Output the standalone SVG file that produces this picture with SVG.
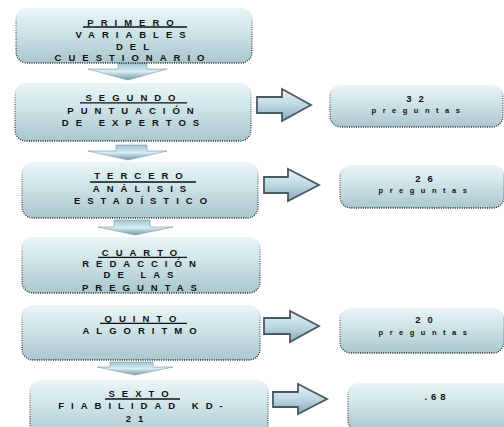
<svg xmlns="http://www.w3.org/2000/svg" width="504" height="427" viewBox="0 0 504 427">
<defs>
<linearGradient id="boxFill" x1="0" y1="0" x2="0" y2="1">
<stop offset="0" stop-color="#eaf5f6"/>
<stop offset="0.35" stop-color="#d3e8eb"/>
<stop offset="1" stop-color="#a9c7cd"/>
</linearGradient>
<linearGradient id="boxEdge" x1="0" y1="0" x2="0" y2="1">
<stop offset="0" stop-color="#ffffff" stop-opacity="0"/>
<stop offset="0.25" stop-color="#444" stop-opacity="0.7"/>
<stop offset="1" stop-color="#222" stop-opacity="1"/>
</linearGradient>
<linearGradient id="arrFill" x1="0" y1="0" x2="0" y2="1">
<stop offset="0" stop-color="#e6f3f7"/>
<stop offset="0.5" stop-color="#bcd9e4"/>
<stop offset="1" stop-color="#86a9b8"/>
</linearGradient>
<linearGradient id="downFill" x1="0" y1="0" x2="0" y2="1">
<stop offset="0" stop-color="#9fc2cf"/>
<stop offset="0.5" stop-color="#d6eef6"/>
<stop offset="1" stop-color="#7499a6"/>
</linearGradient>
</defs>
<style>
.box{fill:url(#boxFill);stroke:url(#boxEdge);stroke-width:1.3;stroke-dasharray:1 1.3}
.t{font-family:"Liberation Sans",Arial,sans-serif;font-weight:bold;font-size:9.5px;letter-spacing:7px;fill:#111;text-anchor:middle}
.n{font-family:"Liberation Sans",Arial,sans-serif;font-weight:bold;font-size:9.5px;letter-spacing:7px;fill:#111;text-anchor:middle}
.s{font-family:"Liberation Sans",Arial,sans-serif;font-weight:bold;font-size:7.5px;letter-spacing:6.5px;fill:#111;text-anchor:middle}
.ul{stroke:#111;stroke-width:1.3}
.ra{fill:url(#arrFill);stroke:#4a5a60;stroke-width:1.8;stroke-linejoin:miter}
.da{fill:url(#downFill);stroke:#7f98a0;stroke-width:0.6}
</style>

<g id="connectors">
<path class="da" d="M118,63 H147 V69 H167 L128,80 L88,69 H118 Z"/>
<path class="da" d="M116,145 H147 V151 H167 L128,160 L88,151 H116 Z"/>
<path class="da" d="M114,220 H150 V227 H173 L135,235 L98,227 H114 Z"/>
<path class="da" d="M110,362 H153 V367 H173 L135,375 L97,367 H110 Z"/>
<path class="ra" d="M257,97 H282 V89 L311,105 L282,121 V113 H257 Z"/>
<path class="ra" d="M264,177 H288 V169 L319,185 L288,201 V193 H264 Z"/>
<path class="ra" d="M264,318 H290 V311 L319,326 L290,342 V334 H264 Z"/>
<path class="ra" d="M273,392 H298 V384 L327,399 L298,414 V407 H273 Z"/>
</g>

<g id="primero">
<rect class="box" x="16" y="8" width="236" height="55" rx="11"/>
<text class="t" x="134" y="25.5">PRIMERO</text>
<line class="ul" x1="83" y1="27" x2="187" y2="27"/>
<text class="t" x="134" y="37.5">VARIABLES</text>
<text class="t" x="136" y="49.5">DEL</text>
<text class="t" x="133" y="61">CUESTIONARIO</text>
</g>

<g id="segundo">
<rect class="box" x="15" y="83" width="236" height="58" rx="11"/>
<text class="t" x="134" y="101">SEGUNDO</text>
<line class="ul" x1="80" y1="102.8" x2="187" y2="102.8"/>
<text class="t" x="134" y="113.5">PUNTUACIÓN</text>
<text class="t" x="134" y="126">DE EXPERTOS</text>
</g>

<g id="tercero">
<rect class="box" x="22" y="162" width="236" height="56" rx="11"/>
<text class="t" x="142" y="179">TERCERO</text>
<line class="ul" x1="90" y1="182" x2="196" y2="182"/>
<text class="t" x="143" y="192">ANÁLISIS</text>
<text class="t" x="144" y="204">ESTADÍSTICO</text>
</g>

<g id="cuarto">
<rect class="box" x="22" y="237" width="238" height="56" rx="11"/>
<text class="t" x="143" y="256">CUARTO</text>
<line class="ul" x1="98" y1="257.3" x2="187" y2="257.3"/>
<text class="t" x="142.5" y="267">REDACCIÓN</text>
<text class="t" x="142" y="277.5">DE LAS</text>
<text class="t" x="143" y="291">PREGUNTAS</text>
</g>

<g id="quinto">
<rect class="box" x="22" y="305" width="238" height="55" rx="11"/>
<text class="t" x="144" y="322">QUINTO</text>
<line class="ul" x1="100" y1="323.3" x2="187" y2="323.3"/>
<text class="t" x="143" y="334">ALGORITMO</text>
</g>

<g id="sexto">
<rect class="box" x="30" y="380" width="238" height="60" rx="11"/>
<text class="t" x="142" y="397">SEXTO</text>
<line class="ul" x1="105" y1="399" x2="180" y2="399"/>
<text class="t" x="144" y="408.5">FIABILIDAD KD-</text>
<text class="t" x="138" y="422">21</text>
</g>

<g id="res32">
<rect class="box" x="330" y="85" width="173" height="42" rx="11"/>
<text class="n" x="418.5" y="102">32</text>
<text class="s" x="419" y="112.5">preguntas</text>
</g>

<g id="res26">
<rect class="box" x="340" y="165" width="164" height="43" rx="11"/>
<text class="n" x="427.5" y="182">26</text>
<text class="s" x="426" y="192.5">preguntas</text>
</g>

<g id="res20">
<rect class="box" x="340" y="308" width="164" height="45" rx="11"/>
<text class="n" x="427.5" y="323">20</text>
<text class="s" x="426" y="334.5">preguntas</text>
</g>

<g id="res68">
<rect class="box" x="348" y="383" width="172" height="48" rx="11"/>
<text class="n" x="437" y="400" style="letter-spacing:4px">.68</text>
</g>
</svg>
